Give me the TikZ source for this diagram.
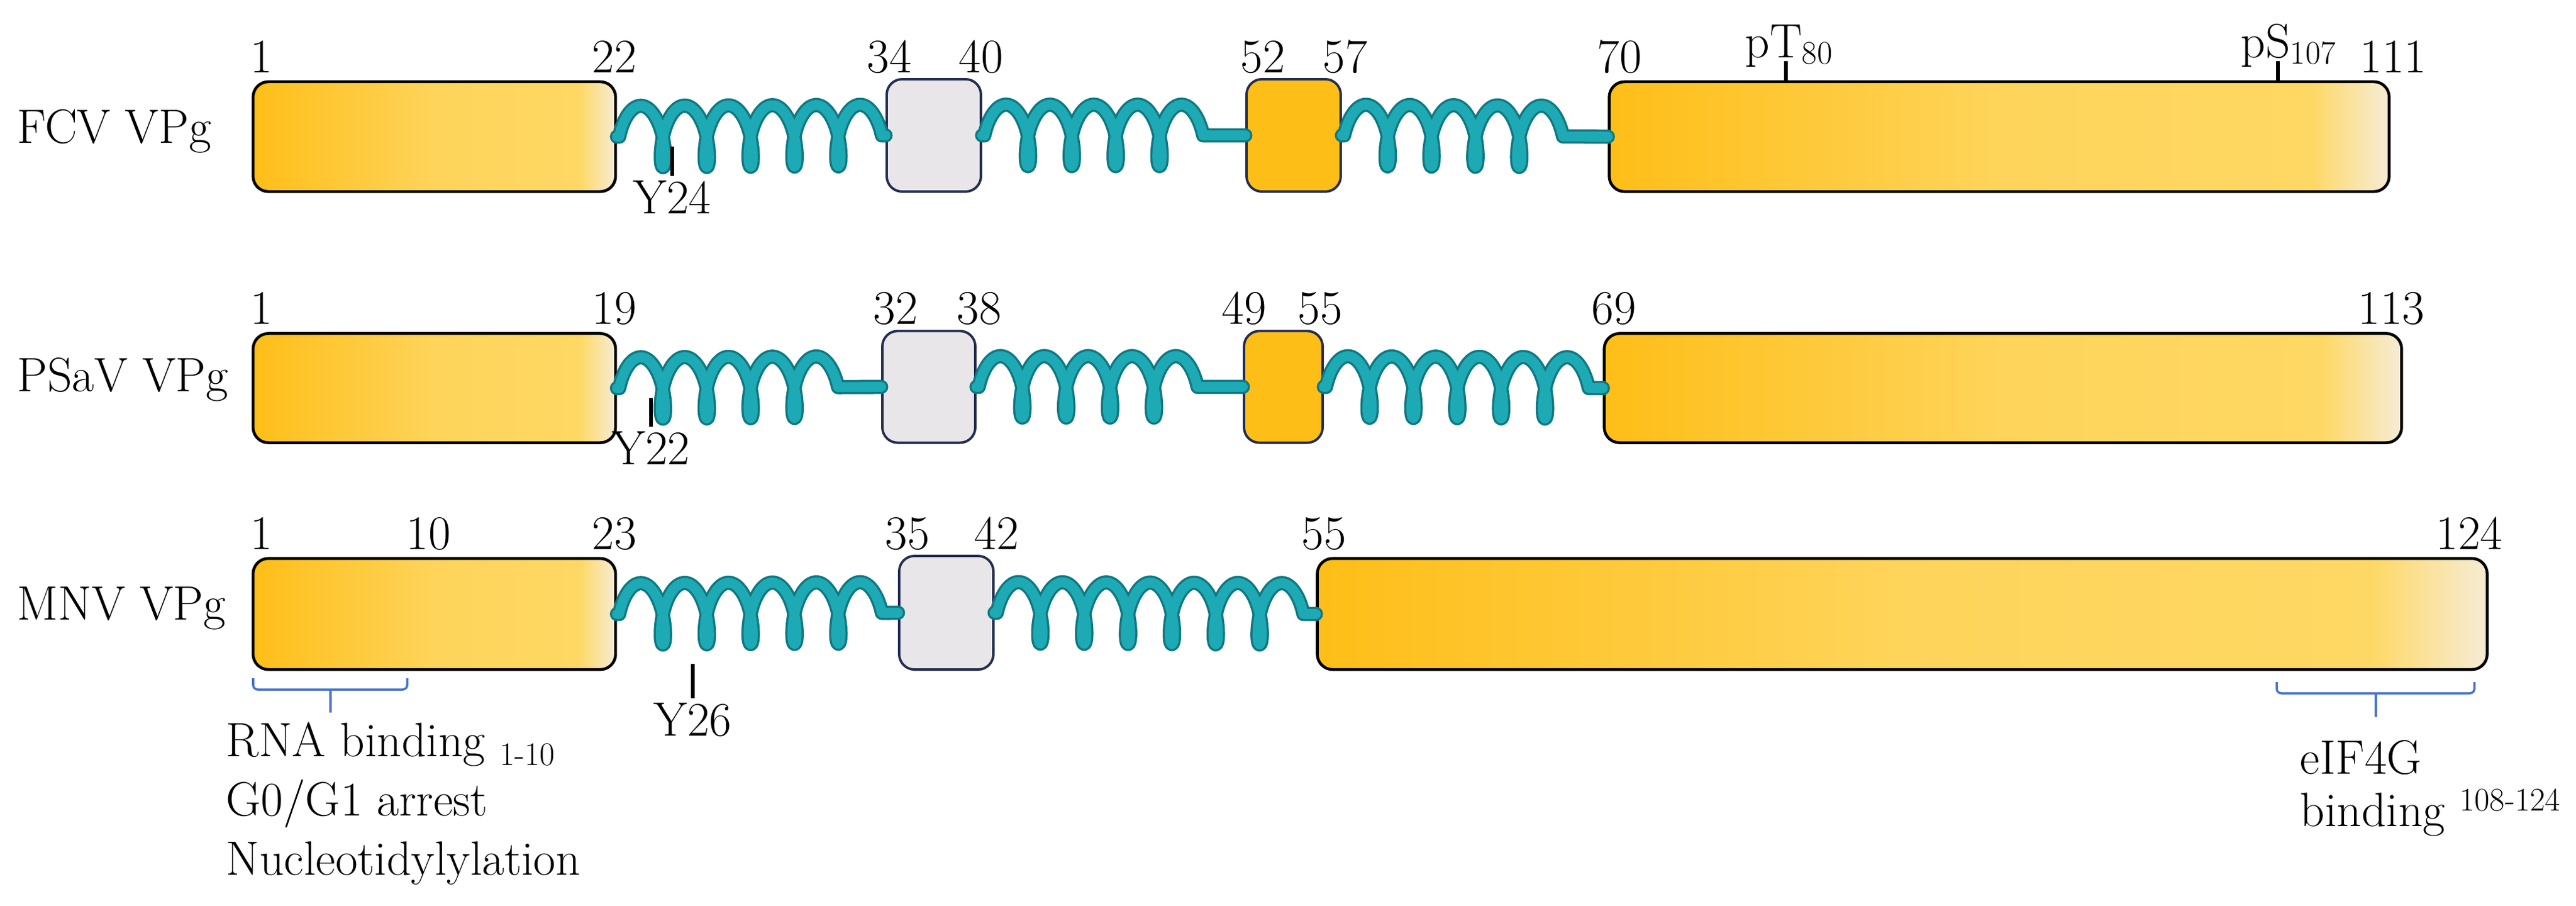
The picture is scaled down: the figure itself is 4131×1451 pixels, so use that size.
\documentclass[tikz,border=0pt]{standalone}
\usetikzlibrary{decorations.pathmorphing}
\definecolor{o1}{RGB}{254,190,24}
\definecolor{o2}{RGB}{254,212,90}
\definecolor{o3}{RGB}{254,216,100}
\definecolor{cream}{RGB}{246,236,214}
\definecolor{teal1}{RGB}{30,170,180}
\definecolor{teal2}{RGB}{15,120,130}
\definecolor{greyf}{RGB}{232,230,232}
\definecolor{navy}{RGB}{35,45,80}
\definecolor{braceblue}{RGB}{70,115,205}
\pgfdeclarehorizontalshading{vpg}{100bp}{color(0bp)=(o1); color(25bp)=(o1); color(50bp)=(o2); color(70bp)=(o3); color(75bp)=(cream); color(100bp)=(cream)}
\tikzset{
  bigbox/.style={draw=black,line width=1.3pt,rounded corners=7pt,shading=vpg,inner sep=0pt},
  greybox/.style={draw=navy,line width=1.1pt,rounded corners=7pt,fill=greyf,inner sep=0pt},
  smallbox/.style={draw=navy,line width=1.1pt,rounded corners=7pt,fill=o1,inner sep=0pt},
  helixdec/.style={line join=round,line cap=round,decorate,decoration={coil,aspect=0.35,amplitude=14pt,segment length=20pt,pre length=1pt,post length=1pt}},
  helixd/.style={teal2,line width=6.5pt,helixdec},
  helixl/.style={teal1,line width=4.5pt,helixdec},
  num/.style={font=\fontsize{22}{26}\selectfont,anchor=base,inner sep=0pt},
  lbl/.style={font=\fontsize{22}{26}\selectfont,anchor=west,inner sep=0pt},
  tick/.style={black,line width=1.6pt},
  brc/.style={braceblue,line width=1pt}
}
\begin{document}
\begin{tikzpicture}[x=0.01cm,y=-0.01cm]
\useasboundingbox (0,0) rectangle (4131,1451);
% FCV
\node[bigbox,minimum width=5.81cm,minimum height=1.76cm] (fa) at (696.5,219) {};
\node[greybox,minimum width=1.51cm,minimum height=1.80cm] (fg) at (1497.5,217) {};
\node[smallbox,minimum width=1.51cm,minimum height=1.80cm] (fo) at (2074.5,217) {};
\node[bigbox,minimum width=12.50cm,minimum height=1.76cm] (fb) at (3206,219) {};
% PSaV
\node[bigbox,minimum width=5.81cm,minimum height=1.75cm] (pa) at (696.5,622) {};
\node[greybox,minimum width=1.49cm,minimum height=1.79cm] (pg) at (1489.5,620) {};
\node[smallbox,minimum width=1.26cm,minimum height=1.79cm] (po) at (2058,620) {};
\node[bigbox,minimum width=12.78cm,minimum height=1.75cm] (pb) at (3212,622) {};
% MNV
\node[bigbox,minimum width=5.81cm,minimum height=1.78cm] (ma) at (696.5,984) {};
\node[greybox,minimum width=1.51cm,minimum height=1.82cm] (mg) at (1517.5,982) {};
\node[bigbox,minimum width=18.75cm,minimum height=1.78cm] (mb) at (3050.5,984) {};
% helices
\foreach \a/\b in {fa/fg,fg/fo,fo/fb,pa/pg,pg/po,po/pb,ma/mg,mg/mb}{
  \draw[helixd] (\a.east) -- (\b.west);
  \draw[helixl] (\a.east) -- (\b.west);
}
% names
\node[lbl] (nf) at (27,210) {FCV VPg};
\node[lbl] (np) at (27,608) {PSaV VPg};
\node[lbl] (nm) at (27,975) {MNV VPg};
% numbers FCV
\node[num] (f1) at (419,116) {1};
\node[num] (f22) at (985,116) {22};
\node[num] (f34) at (1426,116) {34};
\node[num] (f40) at (1573,116) {40};
\node[num] (f52) at (2025,116) {52};
\node[num] (f57) at (2157,116) {57};
\node[num] (f70) at (2597,116) {70};
\node[num] (f111) at (3838,116) {111};
\coordinate (pt) at (2864,98);
\draw[tick] (pt) -- (fb.north -| pt);
\node[num] (lpt) at (2864,92) {\llap{p}T\rlap{\fontsize{15}{17}\selectfont\raisebox{-3pt}{80}}};
\coordinate (ps) at (3653,98);
\draw[tick] (ps) -- (fb.north -| ps);
\node[num] (lps) at (3653,92) {\llap{p}S\rlap{\fontsize{15}{17}\selectfont\raisebox{-3pt}{107}}};
\coordinate (y24) at (1078,282);
\draw[tick] (1078,235) -- (y24);
\node[num,anchor=north] (ly24) at (y24) [yshift=-2pt] {Y24};
% numbers PSaV
\node[num] (p1) at (419,519) {1};
\node[num] (p19) at (985,519) {19};
\node[num] (p32) at (1436,519) {32};
\node[num] (p38) at (1570,519) {38};
\node[num] (p49) at (1995,519) {49};
\node[num] (p55) at (2117,519) {55};
\node[num] (p69) at (2588,519) {69};
\node[num] (p113) at (3835,519) {113};
\coordinate (y22) at (1044,684);
\draw[tick] (1044,638) -- (y22);
\node[num,anchor=north] (ly22) at (y22) [yshift=-2pt] {Y22};
% numbers MNV
\node[num] (m1) at (419,880) {1};
\node[num] (m10) at (687,880) {10};
\node[num] (m23) at (985,880) {23};
\node[num] (m35) at (1455,880) {35};
\node[num] (m42) at (1598,880) {42};
\node[num] (m55) at (2123,880) {55};
\node[num] (m124) at (3960,880) {124};
\coordinate (y26) at (1111,1119);
\draw[tick] (1111,1064) -- (y26);
\node[num,anchor=north] (ly26) at (y26) [yshift=-2pt] {Y26};
% braces
\draw[brc,rounded corners=2pt] (406,1087) -- (406,1105) -- (653,1105) -- (653,1087);
\draw[brc] (530,1105) -- (530,1142);
\draw[brc,rounded corners=2pt] (3651,1093) -- (3651,1111) -- (3968,1111) -- (3968,1093);
\draw[brc] (3810,1111) -- (3810,1149);
% annotations
\node[lbl] (t1) at (362,1193) {RNA binding {\fontsize{15}{17}\selectfont\raisebox{-4pt}{1-10}}};
\node[lbl] (t2) at (362,1288) {G0/G1 arrest};
\node[lbl] (t3) at (362,1383) {Nucleotidylylation};
\node[lbl] (t4) at (3688,1214) {eIF4G};
\node[lbl] (t5) at (3688,1302) {binding {\fontsize{15}{17}\selectfont\raisebox{7pt}{108-124}}};
\end{tikzpicture}
\end{document}
